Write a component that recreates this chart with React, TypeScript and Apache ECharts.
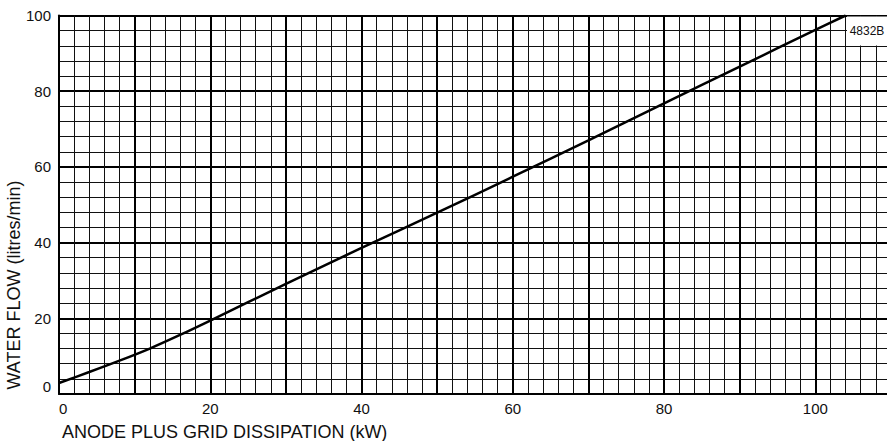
import React, { useEffect, useRef } from "react";
import * as echarts from "echarts";

const dissipationKW = [0, 4, 8, 12, 16, 20, 30, 40, 50, 60, 70, 80, 90, 100, 104];
const waterFlow = [2.9, 5.8, 8.8, 12.0, 15.6, 19.4, 29.1, 38.6, 47.9, 57.4, 67.0, 76.8, 86.5, 96.2, 100];
const xTicks = [0, 20, 40, 60, 80, 100];
const xTitle = "ANODE PLUS GRID DISSIPATION (kW)";
const yTitle = "WATER FLOW (litres/min)";
const refCode = "4832B";

const FONT = "'Liberation Sans', Arial, sans-serif";

export default function App() {
  const ref = useRef<HTMLDivElement>(null);
  useEffect(() => {
    if (!ref.current) return;
    const chart = echarts.init(ref.current, undefined, { renderer: "svg" });
    const data = dissipationKW.map((x, i) => [x, waterFlow[i]]);
    chart.setOption({
      animation: false,
      backgroundColor: "#ffffff",
      grid: { left: 59, top: 15.5, width: 832, height: 378.5, containLabel: false, outerBoundsMode: "none" },
      xAxis: {
        type: "value",
        min: 0,
        max: 110,
        interval: 10,
        axisLine: { show: true, onZero: false, lineStyle: { color: "#000", width: 2 } },
        axisTick: { show: false },
        axisLabel: {
          color: "#111",
          fontSize: 15,
          fontFamily: FONT,
          margin: 7,
          alignMinLabel: "left",
          formatter: (v: number) => (xTicks.includes(v) ? String(v) : ""),
        },
        splitLine: { show: true, lineStyle: { color: "#000", width: 2 } },
        minorTick: { show: false, splitNumber: 5 },
        minorSplitLine: { show: true, lineStyle: { color: "#111", width: 1 } },
      },
      yAxis: {
        type: "value",
        min: 0,
        max: 100,
        interval: 20,
        axisLine: { show: true, onZero: false, lineStyle: { color: "#000", width: 2 } },
        axisTick: { show: false },
        axisLabel: {
          color: "#111",
          fontSize: 15,
          fontFamily: FONT,
          margin: 8,
          verticalAlignMinLabel: "bottom",
        },
        splitLine: { show: true, lineStyle: { color: "#000", width: 2 } },
        minorTick: { show: false, splitNumber: 5 },
        minorSplitLine: { show: true, lineStyle: { color: "#111", width: 1 } },
      },
      series: [
        {
          type: "line",
          data,
          smooth: 0.3,
          showSymbol: false,
          lineStyle: { color: "#000", width: 2.5 },
          z: 5,
        },
      ],
      graphic: [
        {
          type: "rect",
          z: 100,
          shape: { x: 847, y: 16.5, width: 45, height: 29 },
          style: { fill: "#fff" },
        },
        {
          type: "text",
          z: 101,
          x: 867,
          y: 31,
          style: { text: refCode, fontSize: 12, fontFamily: FONT, fill: "#111", align: "center", verticalAlign: "middle" },
        },
        {
          type: "text",
          z: 101,
          x: 62,
          y: 431.5,
          style: { text: xTitle, fontSize: 18, lineHeight: 18, fontFamily: FONT, fill: "#111", align: "left", verticalAlign: "middle" },
        },
        {
          type: "text",
          z: 101,
          x: 14,
          y: 285,
          rotation: Math.PI / 2,
          style: { text: yTitle, fontSize: 18, fontFamily: FONT, fill: "#111", align: "center", verticalAlign: "middle" },
        },
      ],
    });
    return () => chart.dispose();
  }, []);
  return <div ref={ref} style={{ width: 887, height: 441, position: "absolute", left: 0, top: 0 }} />;
}
